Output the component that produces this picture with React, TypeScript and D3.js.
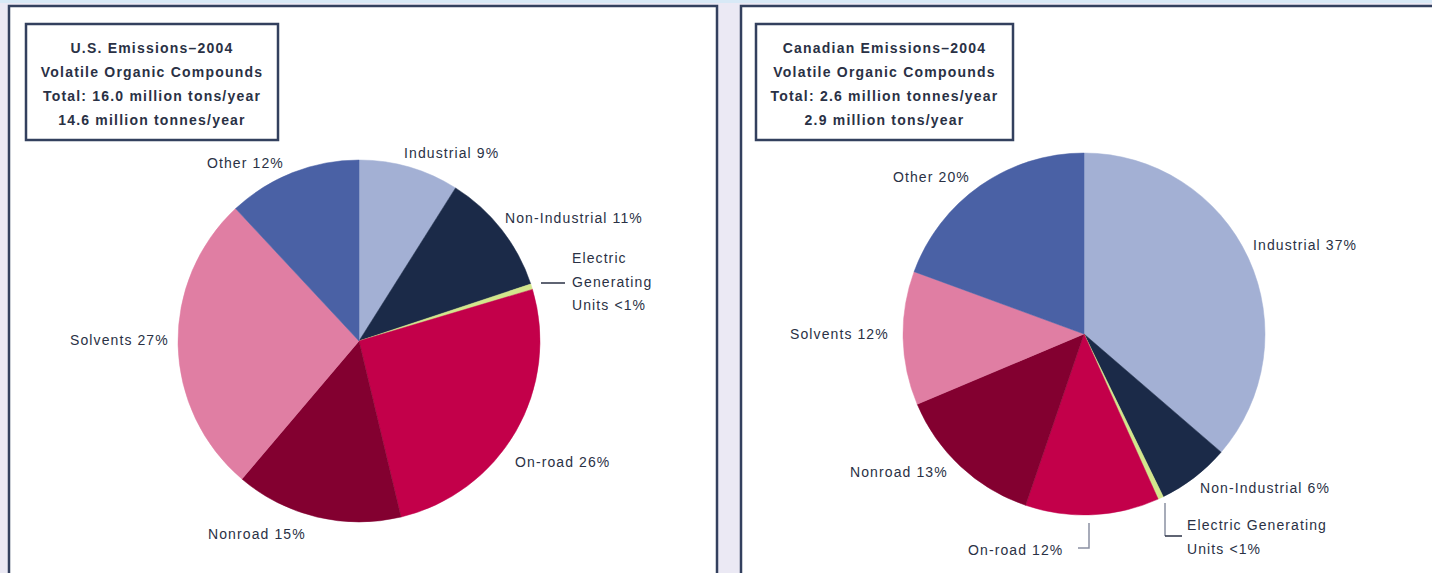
import React from "react";
import * as d3 from "d3";

// ---- data ----
const categories = ["Industrial", "Non-Industrial", "Electric Generating Units", "On-road", "Nonroad", "Solvents", "Other"];
const usValues = [9, 11, 0.5, 26, 15, 27, 12];
const caValues = [36.5, 6.5, 0.5, 12, 13.5, 12, 19.5];
const usLabels = ["Industrial 9%", "Non-Industrial 11%", "Electric|Generating|Units <1%", "On-road 26%", "Nonroad 15%", "Solvents 27%", "Other 12%"];
const caLabels = ["Industrial 37%", "Non-Industrial 6%", "Electric Generating|Units <1%", "On-road 12%", "Nonroad 13%", "Solvents 12%", "Other 20%"];
const usTitle = ["U.S. Emissions\u20132004", "Volatile Organic Compounds", "Total: 16.0 million tons/year", "14.6 million tonnes/year"];
const caTitle = ["Canadian Emissions\u20132004", "Volatile Organic Compounds", "Total: 2.6 million tonnes/year", "2.9 million tons/year"];

// ---- styles / layout ----
const colors = ["#a3b0d4", "#1b2a48", "#d3e68c", "#c3004a", "#830030", "#e07ea3", "#4a61a5"];
const textColor = "#2a3145";
const borderColor = "#33405e";

type LabelPos = { x: number; y: number; anchor?: string };
const usLabelPos: LabelPos[] = [
  { x: 404, y: 158 },
  { x: 505, y: 223 },
  { x: 572, y: 263 },
  { x: 515, y: 467 },
  { x: 208, y: 539 },
  { x: 70, y: 345 },
  { x: 207, y: 168 },
];
const caLabelPos: LabelPos[] = [
  { x: 1253, y: 250 },
  { x: 1200, y: 493 },
  { x: 1187, y: 530 },
  { x: 968, y: 555 },
  { x: 850, y: 477 },
  { x: 790, y: 339 },
  { x: 893, y: 182 },
];

function Pie({ cx, cy, r, values }: { cx: number; cy: number; r: number; values: number[] }) {
  const pie = d3.pie<number>().sort(null).value((d) => d);
  const arc = d3.arc<d3.PieArcDatum<number>>().innerRadius(0).outerRadius(r);
  const arcs = pie(values);
  return (
    <g transform={`translate(${cx},${cy})`}>
      {arcs.map((a, i) => (
        <path key={i} d={arc(a) || ""} fill={colors[i]} stroke={colors[i]} strokeWidth={0.5} />
      ))}
    </g>
  );
}

function Labels({ labels, pos, lineH }: { labels: string[]; pos: LabelPos[]; lineH: number }) {
  return (
    <g fontFamily="Liberation Sans, Arial, sans-serif" fontSize={14} fill={textColor} letterSpacing={1.1}>
      {labels.map((l, i) => (
        <text key={i} x={pos[i].x} y={pos[i].y} textAnchor={pos[i].anchor || "start"}>
          {l.split("|").map((s, j) => (
            <tspan key={j} x={pos[i].x} dy={j === 0 ? 0 : lineH}>
              {s}
            </tspan>
          ))}
        </text>
      ))}
    </g>
  );
}

function Title({ x, y, w, h, lines }: { x: number; y: number; w: number; h: number; lines: string[] }) {
  return (
    <g>
      <rect x={x} y={y} width={w} height={h} fill="#fff" stroke={borderColor} strokeWidth={2.5} />
      <g fontFamily="Liberation Sans, Arial, sans-serif" fontSize={14} fontWeight="bold" fill={textColor} textAnchor="middle" letterSpacing={1.2}>
        {lines.map((l, i) => (
          <text key={i} x={x + w / 2} y={y + 29 + i * 24}>
            {l}
          </text>
        ))}
      </g>
    </g>
  );
}

export default function App() {
  return (
    <svg width={1432} height={573} style={{ position: "absolute", left: 0, top: 0 }}>
      <rect x={0} y={0} width={1432} height={573} fill="#ebe9f4" />
      <rect x={0} y={0} width={1432} height={3} fill="#d8e9f6" />
      {/* panels */}
      <rect x={9} y={6} width={708} height={620} fill="#fff" stroke={borderColor} strokeWidth={2.5} />
      <rect x={741} y={6} width={760} height={620} fill="#fff" stroke={borderColor} strokeWidth={2.5} />

      <Title x={26} y={24} w={252} h={116} lines={usTitle} />
      <Title x={756} y={24} w={257} h={116} lines={caTitle} />

      <Pie cx={359} cy={341} r={181} values={usValues} />
      <Pie cx={1084} cy={334} r={181} values={caValues} />

      {/* leader lines */}
      <line x1={541} y1={283} x2={565} y2={283} stroke={textColor} strokeWidth={1.5} />
      <polyline points="1089,523 1089,548 1078,548" fill="none" stroke="#8a90a2" strokeWidth={1.5} />
      <polyline points="1165,503 1165,536" fill="none" stroke="#8a90a2" strokeWidth={1.5} />
      <line x1={1165} y1={536} x2={1182} y2={536} stroke={textColor} strokeWidth={1.5} />

      <Labels labels={usLabels} pos={usLabelPos} lineH={23.5} />
      <Labels labels={caLabels} pos={caLabelPos} lineH={24} />
    </svg>
  );
}
